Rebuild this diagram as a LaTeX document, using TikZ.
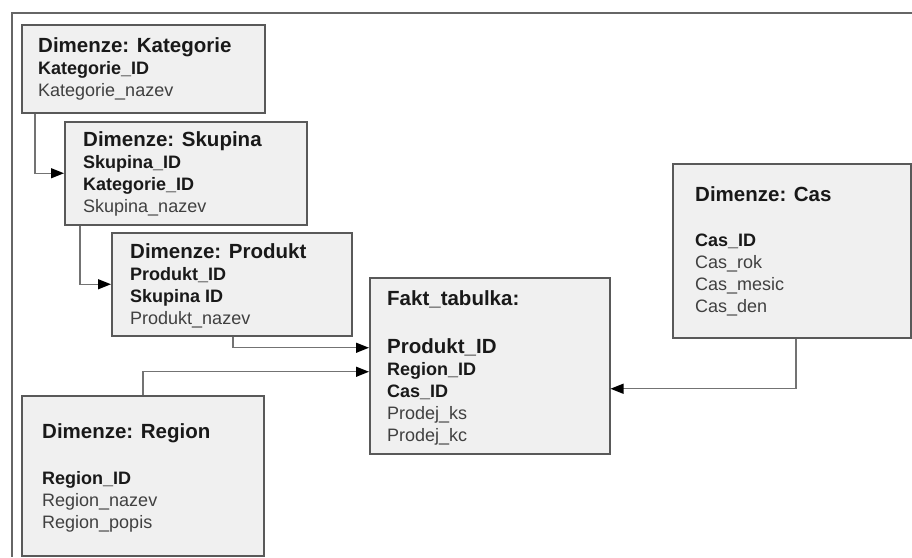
\documentclass[tikz,border=0pt]{standalone}
\usepackage{fontspec}
\setmainfont{Liberation Sans}
\usetikzlibrary{arrows.meta}

\begin{document}
\begin{tikzpicture}[
    x=1pt, y=-1pt,
    tbl/.style={
        rectangle, anchor=north west, inner sep=0pt,
        fill=black!6, draw=black!65, line width=1.5pt
    },
    fields/.style={
        anchor=north west, inner sep=0pt, align=left,
        font=\fontsize{18}{22}\selectfont, text=black!75
    },
    conn/.style={
        -{Triangle[length=13pt, width=10pt, color=black]},
        line width=1.4pt, black!55
    }
]
\useasboundingbox (0,0) rectangle (912,557);
\newcommand{\ttl}[1]{{\fontsize{20.5}{22}\selectfont\bfseries\color{black!90}#1}}
\newcommand{\key}[1]{{\bfseries\color{black!90}#1}}

% outer frame
\draw[black!60, line width=1.8pt] (912,13) -- (12,13) -- (12,557);

\node[tbl, minimum width=243pt, minimum height=88pt]  at (21,24)   (kat) {};
\node[tbl, minimum width=242pt, minimum height=103pt] at (64,121)  (sku) {};
\node[tbl, minimum width=240pt, minimum height=103pt] at (111,232) (prod) {};
\node[tbl, minimum width=240pt, minimum height=176pt] at (369,277) (fakt) {};
\node[tbl, minimum width=238pt, minimum height=174pt] at (672,163) (cas) {};
\node[tbl, minimum width=242pt, minimum height=160pt] at (21,395)  (reg) {};

\node[fields] at (38,37)   (kat-txt)  {\ttl{Dimenze: Kategorie}\\ \key{Kategorie\_ID}\\ Kategorie\_nazev};
\node[fields] at (83,131)  (sku-txt)  {\ttl{Dimenze: Skupina}\\ \key{Skupina\_ID}\\ \key{Kategorie\_ID}\\ Skupina\_nazev};
\node[fields] at (130,243) (prod-txt) {\ttl{Dimenze: Produkt}\\ \key{Produkt\_ID}\\ \key{Skupina ID}\\ Produkt\_nazev};
\node[fields] at (387,290) (fakt-txt) {\ttl{Fakt\_tabulka:}\\[26pt] \ttl{Produkt\_ID}\\ \key{Region\_ID}\\ \key{Cas\_ID}\\ Prodej\_ks\\ Prodej\_kc};
\node[fields] at (695,186) (cas-txt)  {\ttl{Dimenze: Cas}\\[23pt] \key{Cas\_ID}\\ Cas\_rok\\ Cas\_mesic\\ Cas\_den};
\node[fields] at (42,423)  (reg-txt)  {\ttl{Dimenze: Region}\\[24pt] \key{Region\_ID}\\ Region\_nazev\\ Region\_popis};

\draw[conn] ([xshift=14pt]kat.south west)   |- (sku.west);
\draw[conn] ([xshift=16pt]sku.south west)   |- (prod.west);
\draw[conn] ([xshift=122pt]prod.south west) |- ([yshift=18pt]fakt.west);
\draw[conn] ([xshift=122pt]reg.north west)  |- ([yshift=-6pt]fakt.west);
\draw[conn] ([xshift=124pt]cas.south west)  |- ([yshift=-23pt]fakt.east);

\end{tikzpicture}
\end{document}
